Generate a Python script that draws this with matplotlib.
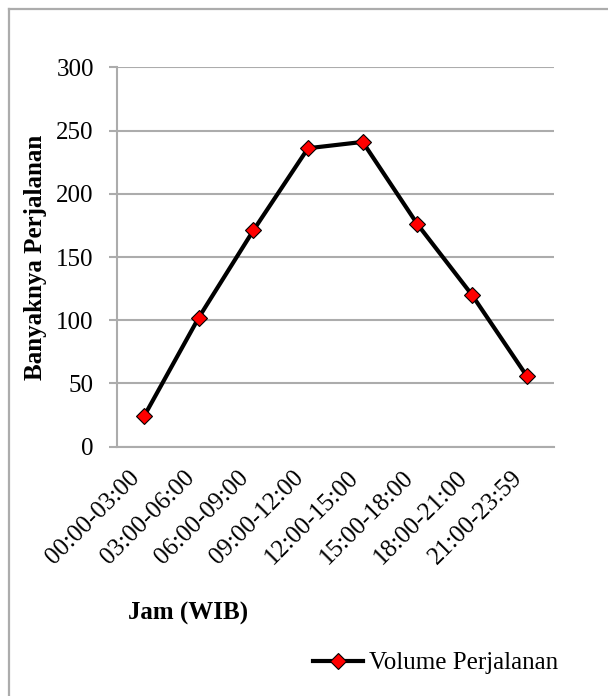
import matplotlib
matplotlib.use("Agg")
import matplotlib.pyplot as plt
from matplotlib.lines import Line2D

periods = ["00:00-03:00", "03:00-06:00", "06:00-09:00", "09:00-12:00",
           "12:00-15:00", "15:00-18:00", "18:00-21:00", "21:00-23:59"]
trips = [24, 102, 171, 236, 241, 176, 120, 56]
y_ticks = [0, 50, 100, 150, 200, 250, 300]

plt.rcParams["font.family"] = ["Liberation Serif", "DejaVu Serif"]
FS = 18
GRID = "#acacac"

W, H = 608, 696
fig = plt.figure(figsize=(W / 100, H / 100), dpi=100)
ax = fig.add_axes([116.7 / W, 1 - 446.7 / H, (554 - 116.7) / W, (446.7 - 67.3) / H])

x = list(range(len(periods)))
ax.plot(x, trips, color="black", lw=3, marker="D", ms=8.5,
        markerfacecolor="#ff0000", markeredgecolor="black", markeredgewidth=0.8,
        label="Volume Perjalanan", zorder=3, clip_on=False)

ax.set_xlim(-0.5, len(periods) - 0.5)
ax.set_ylim(0, 300)
ax.set_yticks(y_ticks)
ax.set_yticklabels([str(v) for v in y_ticks], fontsize=FS)
ax.set_xticks(x)
ax.set_xticklabels(periods, fontsize=FS, rotation=45, ha="right")

ax.yaxis.grid(True, color=GRID, lw=1.5)
ax.set_axisbelow(True)
for side in ("top", "right"):
    ax.spines[side].set_visible(False)
for side in ("left", "bottom"):
    ax.spines[side].set_color(GRID)
    ax.spines[side].set_linewidth(1.5)
ax.tick_params(axis="y", length=5.5, width=1.5, color=GRID, pad=11)
ax.tick_params(axis="x", length=0, pad=14)

ax.set_ylabel("Banyaknya Perjalanan", fontsize=FS, fontweight="bold")
ax.yaxis.set_label_coords((47 - 116.7) / (554 - 116.7), 0.5)

fig.text(188 / W, 1 - 613 / H, "Jam (WIB)", fontsize=FS, fontweight="bold",
         ha="center", va="center")

handle = Line2D([], [], color="black", lw=3, marker="D", ms=8.5,
                markerfacecolor="#ff0000", markeredgecolor="black", markeredgewidth=0.8)
fig.legend([handle], ["Volume Perjalanan"], loc="center left",
           bbox_to_anchor=(313 / W, 1 - 663 / H), frameon=False, fontsize=FS,
           handlelength=2.0, handletextpad=0.25, borderaxespad=0, borderpad=0)

# chart area frame (left and top edges)
fig.add_artist(Line2D([9 / W, 9 / W], [0, 1 - 9 / H], color=GRID, lw=1.6,
                      transform=fig.transFigure))
fig.add_artist(Line2D([9 / W, 1], [1 - 9 / H, 1 - 9 / H], color=GRID, lw=1.6,
                      transform=fig.transFigure))

fig.savefig("out.png", dpi=100)
